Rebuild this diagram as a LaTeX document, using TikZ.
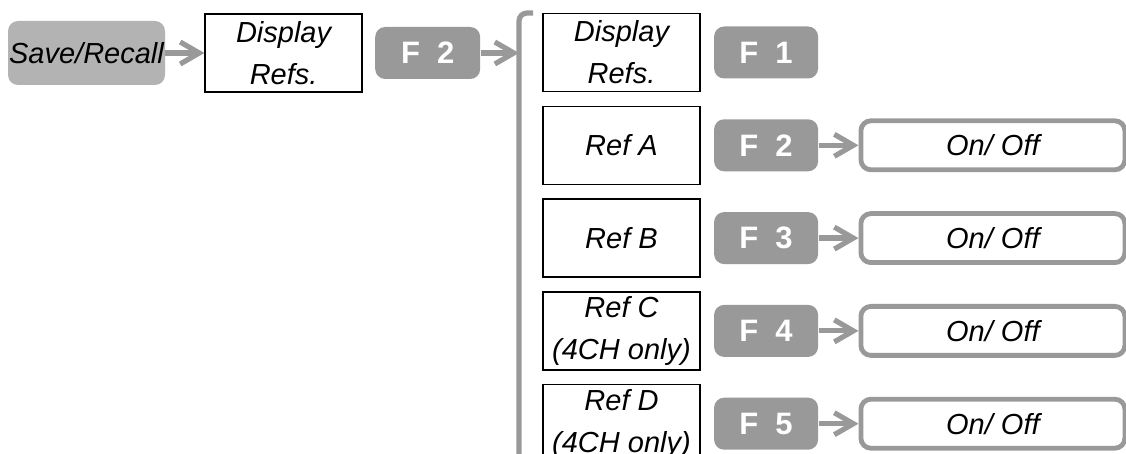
\documentclass[tikz,border=0pt]{standalone}
\usepackage{fontspec}
\setmainfont{Liberation Sans}
\usetikzlibrary{arrows.meta,positioning,calc}
\definecolor{keygray}{HTML}{999999}
\definecolor{softgray}{HTML}{B3B3B3}

\begin{document}
\begin{tikzpicture}[x=0.5pt, y=-0.5pt, font=\fontsize{14.5}{21}\selectfont\itshape]
    \tikzset{
      softkey/.style={fill=softgray, rounded corners=5pt, minimum width=78.5pt,
                      minimum height=32pt, inner sep=0pt},
      menu/.style={draw, line width=0.7pt, minimum width=78.5pt, minimum height=39pt,
                   inner sep=0pt, align=center},
      fkey/.style={fill=keygray, rounded corners=5pt, minimum width=52pt,
                   minimum height=26pt, inner sep=0pt, text=white,
                   font=\fontsize{15.5}{18}\selectfont\upshape\bfseries},
      opt/.style={draw=keygray, line width=2.4pt, rounded corners=5pt,
                  minimum width=132pt, minimum height=24.5pt, inner sep=0pt},
      go/.style={draw=keygray, line width=2.6pt,
                 -{Straight Barb[length=9.5pt, width=11pt, line width=2.6pt]}},
    }
    \useasboundingbox (0,0) rectangle (1126,454);

    % top row
    \node[softkey] (save) at (86.5,53) {Save/Recall};
    \node[menu, right=19.5pt of save] (disp) {Display\\Refs.};
    \node[fkey, right=6pt of disp, minimum width=52.5pt] (key0) {F\hspace{0.55em}2};
    \coordinate (brin) at (519,53);
    \draw[keygray, line width=2.6pt, rounded corners=4pt] (533,13) -- (519,13) -- (519,456);

    % sub menu
    \node[menu] (m1) at (621.5,52.5) {Display\\Refs.};
    \node[menu, below=6.7pt of m1] (m2) {Ref A};
    \node[menu, below=6.7pt of m2] (m3) {Ref B};
    \node[menu, below=6.7pt of m3] (m4) {Ref C\\(4CH only)};
    \node[menu, below=6.7pt of m4] (m5) {Ref D\\(4CH only)};

    \node[fkey, right=6.5pt of m1] (k1) {F\hspace{0.55em}1};
    \node[fkey, right=6.5pt of m2] (k2) {F\hspace{0.55em}2};
    \node[fkey, right=6.5pt of m3] (k3) {F\hspace{0.55em}3};
    \node[fkey, right=6.5pt of m4] (k4) {F\hspace{0.55em}4};
    \node[fkey, right=6.5pt of m5] (k5) {F\hspace{0.55em}5};

    \node[opt, right=20pt of k2] (o2) {On/ Off};
    \node[opt, right=20pt of k3] (o3) {On/ Off};
    \node[opt, right=20pt of k4] (o4) {On/ Off};
    \node[opt, right=20pt of k5] (o5) {On/ Off};

    \draw[go] (save) -- (disp);
    \draw[go] (key0) -- (brin);
    \draw[go] (k2) -- (o2);
    \draw[go] (k3) -- (o3);
    \draw[go] (k4) -- (o4);
    \draw[go] (k5) -- (o5);
  \end{tikzpicture}
\end{document}
